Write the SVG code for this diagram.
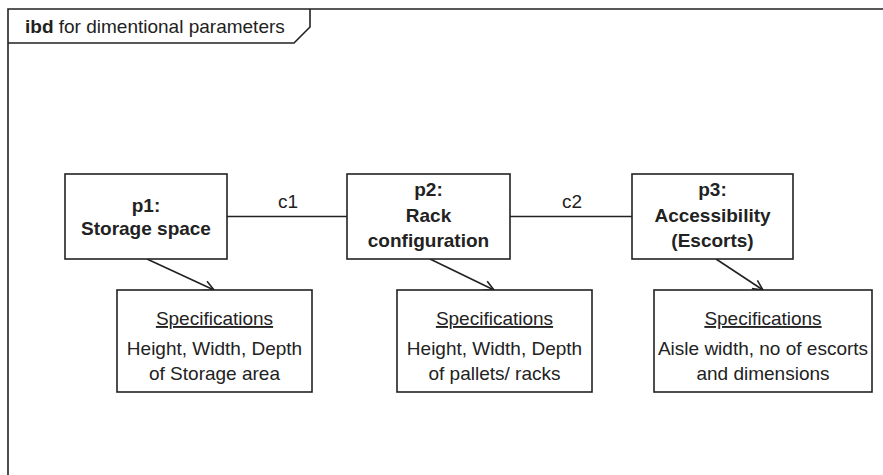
<svg xmlns="http://www.w3.org/2000/svg" width="883" height="475" viewBox="0 0 883 475">
  <defs>
    <style>
      .frame { fill: none; stroke: #222; stroke-width: 1.6; }
      .box { fill: #fff; stroke: #222; stroke-width: 1.6; }
      .wire { fill: none; stroke: #222; stroke-width: 1.6; }
      .t { font-family: "Liberation Sans", Arial, sans-serif; font-size: 19px; fill: #222; text-anchor: middle; }
      .b { font-weight: bold; }
      .u { text-decoration: underline; }
    </style>
    <marker id="open" viewBox="0 0 12 12" refX="11" refY="6" markerWidth="12" markerHeight="12" markerUnits="userSpaceOnUse" orient="auto">
      <path d="M1,1 L11,6 L1,11" fill="none" stroke="#222" stroke-width="1.6"/>
    </marker>
  </defs>
  <rect width="883" height="475" fill="#fff"/>

  <!-- diagram frame with name tag -->
  <g id="frame">
    <path class="frame" d="M883,9 L8,9 L8,475"/>
    <path class="frame" d="M8,43 L294,43 L310,27 L310,9"/>
    <text x="25" y="33" font-family="Liberation Sans, Arial, sans-serif" font-size="19" fill="#222"><tspan font-weight="bold">ibd</tspan> for dimentional parameters</text>
  </g>

  <!-- connectors -->
  <g id="connectors">
    <line class="wire" x1="227" y1="216.5" x2="347" y2="216.5"/>
    <text class="t" x="288" y="208">c1</text>
    <line class="wire" x1="510" y1="216.5" x2="632" y2="216.5"/>
    <text class="t" x="572" y="208">c2</text>
    <line class="wire" x1="147" y1="259" x2="214" y2="290" marker-end="url(#open)"/>
    <line class="wire" x1="430" y1="259" x2="494" y2="290" marker-end="url(#open)"/>
    <line class="wire" x1="716" y1="259" x2="763" y2="290" marker-end="url(#open)"/>
  </g>

  <g id="p1">
    <rect class="box" x="65" y="174" width="162" height="85"/>
    <text class="t b" x="146" y="212">p1:</text>
    <text class="t b" x="146" y="235">Storage space</text>
  </g>

  <g id="p2">
    <rect class="box" x="347" y="174" width="163" height="85"/>
    <text class="t b" x="428.5" y="196">p2:</text>
    <text class="t b" x="428.5" y="222">Rack</text>
    <text class="t b" x="428.5" y="247">configuration</text>
  </g>

  <g id="p3">
    <rect class="box" x="632" y="174" width="161" height="85"/>
    <text class="t b" x="712.5" y="196">p3:</text>
    <text class="t b" x="712.5" y="222">Accessibility</text>
    <text class="t b" x="712.5" y="247">(Escorts)</text>
  </g>

  <g id="spec1">
    <rect class="box" x="117" y="290" width="195" height="102"/>
    <text class="t u" x="214.5" y="325">Specifications</text>
    <text class="t" x="214.5" y="355">Height, Width, Depth</text>
    <text class="t" x="214.5" y="380">of Storage area</text>
  </g>

  <g id="spec2">
    <rect class="box" x="397" y="290" width="195" height="102"/>
    <text class="t u" x="494.5" y="325">Specifications</text>
    <text class="t" x="494.5" y="355">Height, Width, Depth</text>
    <text class="t" x="494.5" y="380">of pallets/ racks</text>
  </g>

  <g id="spec3">
    <rect class="box" x="654" y="290" width="218" height="102"/>
    <text class="t u" x="763" y="325">Specifications</text>
    <text class="t" x="763" y="355">Aisle width, no of escorts</text>
    <text class="t" x="763" y="380">and dimensions</text>
  </g>
</svg>
